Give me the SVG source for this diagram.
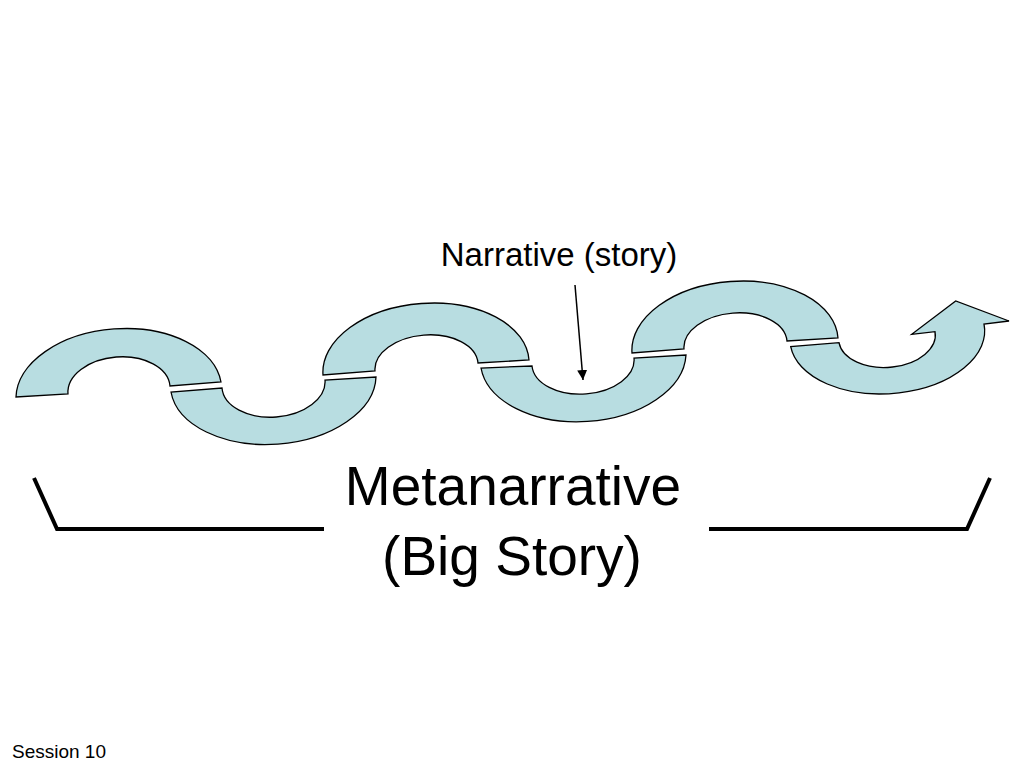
<svg xmlns="http://www.w3.org/2000/svg" width="1024" height="768" viewBox="0 0 1024 768">
  <defs>
    <style>
      .seg { fill: #b8dde1; stroke: #000; stroke-width: 1.3; stroke-linejoin: miter; }
      .brk { fill: none; stroke: #000; stroke-width: 4; stroke-linejoin: miter; }
      .txt { font-family: "Liberation Sans", Arial, sans-serif; fill: #000; }
    </style>
    <marker id="ah" viewBox="0 0 10 10" refX="10" refY="5" markerWidth="10" markerHeight="10" markerUnits="userSpaceOnUse" orient="auto">
      <path d="M0,0 L10,5 L0,10 Z" fill="#000"/>
    </marker>
  </defs>
  <rect width="1024" height="768" fill="#fff"/>

  <g id="seg1"><path class="seg" d="M16,397 A103,65 -4.2 0 1 221,382 L170,386 A51,33 -4.2 0 0 68,394 Z"/></g>
  <g id="seg2"><path class="seg" d="M171,392 A103,64 -4.2 0 0 376,377 L325,380 A51.5,33 -4.2 0 1 222,388 Z"/></g>
  <g id="seg3"><path class="seg" d="M323,375 A103,64 -4.2 0 1 529,360 L478,363 A51.5,32 -4.2 0 0 375,371 Z"/></g>
  <g id="seg4"><path class="seg" d="M481,368 A103,65 -3.6 0 0 686,355 L634,358 A51,32 -3.6 0 1 532,366 Z"/></g>
  <g id="seg5"><path class="seg" d="M632,353 A103,64 -4.2 0 1 838,338 L787,341 A51.5,32 -4.2 0 0 684,349 Z"/></g>
  <g id="seg6"><path class="seg" d="M790.7,346.7 A97,58 -4 0 0 984,324 L1009,321 L955.7,301 L911.7,334.3 L935,331.7 A48,30 -4 0 1 839,342.7 Z"/></g>

  <g id="connectors">
    <line x1="575" y1="285" x2="583" y2="380" stroke="#000" stroke-width="1.5" marker-end="url(#ah)"/>
    <polyline class="brk" points="34,478 57,529 324,529"/>
    <polyline class="brk" points="709,529 967,529 990,478"/>
  </g>

  <g id="label-narrative">
    <text class="txt" x="559" y="266" font-size="33" text-anchor="middle">Narrative (story)</text>
  </g>
  <g id="label-metanarrative">
    <text class="txt" x="513" y="505" font-size="55" text-anchor="middle">Metanarrative</text>
    <text class="txt" x="512" y="575" font-size="55" text-anchor="middle">(Big Story)</text>
  </g>
  <g id="footer">
    <text class="txt" x="12" y="758" font-size="19">Session 10</text>
  </g>
</svg>
